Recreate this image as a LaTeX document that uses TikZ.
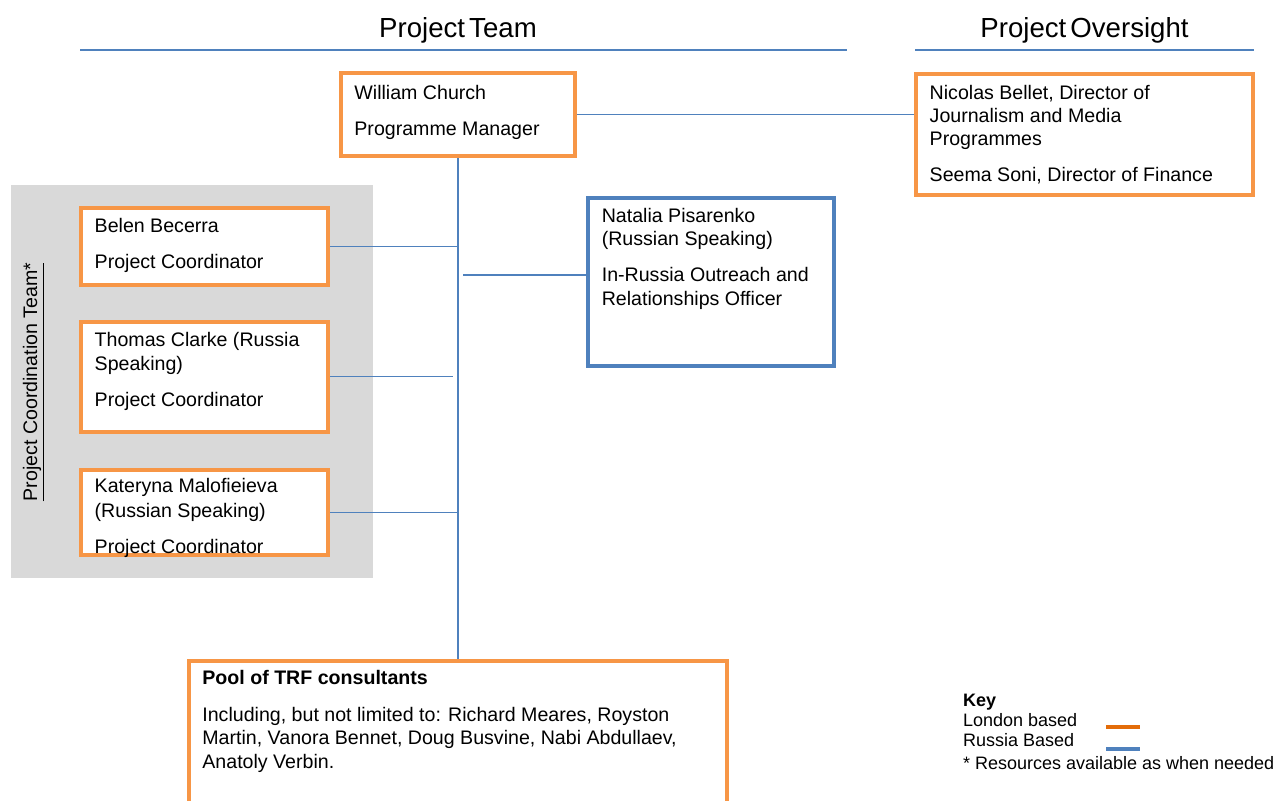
\documentclass[tikz,border=0pt]{standalone}
\usepackage{fontspec}
\setmainfont{Liberation Sans}
\pgfdeclarelayer{bgg}
\pgfdeclarelayer{bg}
\pgfsetlayers{bgg,bg,main}
\definecolor{boxorange}{HTML}{F79646}
\definecolor{keyorange}{HTML}{E36C09}
\definecolor{lineblue}{HTML}{4F81BD}
\definecolor{greyfill}{HTML}{D9D9D9}
\begin{document}
\begin{tikzpicture}[x=0.5pt,y=-0.5pt,
  obox/.style={draw=boxorange,line width=2pt,fill=white,rectangle,inner sep=0pt},
  bbox/.style={draw=lineblue,line width=2pt,fill=white,rectangle,inner sep=0pt},
  conn/.style={draw=lineblue,line width=0.65pt},
  rule/.style={draw=lineblue,line width=0.8pt},
  txt/.style={anchor=base west,inner sep=0pt,font=\fontsize{9.8}{11.5}\selectfont},
  ttl/.style={anchor=base,inner sep=0pt,font=\fontsize{13.8}{15}\selectfont},
  keytxt/.style={anchor=base west,inner sep=0pt,font=\fontsize{9}{10}\selectfont},
  keyline/.style={line width=2pt}
]
\useasboundingbox (0,0) rectangle (1274,800);
\clip (0,0) rectangle (1274,800);

% titles
\node[ttl] (ttlteam) at (458,37) {Project\hspace{0.15em}Team};
\node[ttl] (ttlover) at (1084.5,37) {Project\hspace{0.15em}Oversight};
\coordinate (r1a) at (80,50); \coordinate (r1b) at (847,50);
\coordinate (r2a) at (915,50); \coordinate (r2b) at (1254,50);
\draw[rule] (r1a) -- (r1b);
\draw[rule] (r2a) -- (r2b);

% grey background
\begin{pgfonlayer}{bgg}
\node[fill=greyfill,inner sep=0pt,minimum width=180.85pt,minimum height=196.65pt] (grey) at (191.85,381.65) {};
\end{pgfonlayer}
\node[rotate=90,anchor=base,inner sep=0pt,font=\fontsize{9.8}{11.5}\selectfont] (pct) at (37,382) {\underline{Project Coordination Team*}};

% boxes
\node[obox,minimum width=117pt,minimum height=41.5pt] (wc) at (458,114.5) {};
\node[obox,minimum width=168.35pt,minimum height=60.5pt] (nb) at (1084.7,134.2) {};
\node[obox,minimum width=123.65pt,minimum height=38.65pt] (bb) at (204.3,246.7) {};
\node[obox,minimum width=123.65pt,minimum height=55pt] (tc) at (204.3,376.7) {};
\node[obox,minimum width=123.65pt,minimum height=42.8pt] (km) at (204.3,512.5) {};
\node[bbox,minimum width=123pt,minimum height=84pt] (np) at (711,282) {};
\node[obox,minimum width=268.8pt,minimum height=79.5pt] (pool) at (458,740.5) {};

% connectors
\coordinate (tcend) at (453,376.7);
\coordinate (npstart) at (463,275);
\begin{pgfonlayer}{bg}
\draw[conn] (wc.east) -- (wc.east -| nb.west);
\draw[conn] (wc.south) -- (pool.north);
\draw[conn] (bb.east) -- (bb.east -| wc.south);
\draw[conn] (tc.east) -- (tcend);
\draw[conn] (km.east) -- (km.east -| wc.south);
\draw[conn] (npstart) -- (npstart -| np.west);
\end{pgfonlayer}

% texts
\node[txt] (wc1) at (354,99) {William Church};
\node[txt] (wc2) at (354,135) {Programme Manager};

\node[txt] (nb1) at (929.3,99) {Nicolas Bellet, Director of};
\node[txt] (nb2) at (929.3,122.7) {Journalism and Media};
\node[txt] (nb3) at (929.3,145.7) {Programmes};
\node[txt] (nb4) at (929.3,181.7) {Seema Soni, Director of Finance};

\node[txt] (bb1) at (94.3,232.3) {Belen Becerra};
\node[txt] (bb2) at (94.3,268.3) {Project Coordinator};

\node[txt] (tc1) at (94.3,346.7) {Thomas Clarke (Russia};
\node[txt] (tc2) at (94.3,370) {Speaking)};
\node[txt] (tc3) at (94.3,406) {Project Coordinator};

\node[txt] (km1) at (94.3,492.7) {Kateryna Malofieieva};
\node[txt] (km2) at (94.3,517.7) {(Russian Speaking)};
\node[txt] (km3) at (94.3,553.3) {Project Coordinator};

\node[txt] (np1) at (601.4,222.7) {Natalia Pisarenko};
\node[txt] (np2) at (601.4,245) {(Russian Speaking)};
\node[txt] (np3) at (601.4,281.7) {In-Russia Outreach and};
\node[txt] (np4) at (601.4,305.7) {Relationships Officer};

\node[txt,font=\fontsize{9.8}{11.5}\selectfont\bfseries] (pl1) at (202,684.3) {Pool of TRF consultants};
\node[txt] (pl2) at (202,721) {Including, but not limited to: Richard Meares, Royston};
\node[txt] (pl3) at (202,744.3) {Martin, Vanora Bennet, Doug Busvine, Nabi Abdullaev,};
\node[txt] (pl4) at (202,768.3) {Anatoly Verbin.};

% key
\node[keytxt,font=\fontsize{9}{10}\selectfont\bfseries] (key0) at (962.7,706) {Key};
\node[keytxt] (key1) at (962.7,726.7) {London based};
\node[keytxt] (key2) at (962.7,746.7) {Russia Based};
\node[keytxt] (key3) at (962.7,769.3) {* Resources available as when needed};
\coordinate (ko1) at (1106,727.3); \coordinate (ko2) at (1140,727.3);
\coordinate (kb1) at (1106,749.3); \coordinate (kb2) at (1140,749.3);
\draw[keyline,keyorange] (ko1) -- (ko2);
\draw[keyline,lineblue] (kb1) -- (kb2);
\end{tikzpicture}
\end{document}
